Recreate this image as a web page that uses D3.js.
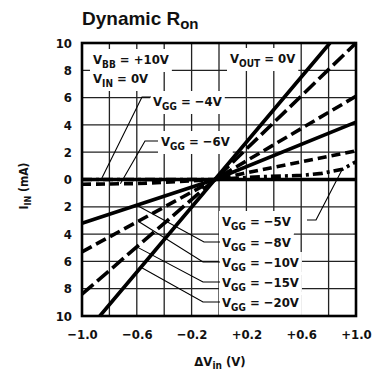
<!DOCTYPE html>
<html>
<head>
<meta charset="utf-8">
<script src="https://cdn.jsdelivr.net/npm/d3@7"></script>
<style>
  body { margin: 0; background: #fff; }
  text { font-family: "Liberation Sans Narrow", "DejaVu Sans Condensed", sans-serif; font-weight: bold; fill: #111; }
</style>
</head>
<body>
<div id="chart"></div>
<script>
//***************** data *******************/
var xTicks = [-1.0, -0.6, -0.2, 0.2, 0.6, 1.0];
var yTicks = [10, 8, 6, 4, 2, 0, -2, -4, -6, -8, -10];
var xGrid = [-0.8, -0.6, -0.4, -0.2, 0, 0.2, 0.4, 0.6, 0.8];
var yGrid = [8, 6, 4, 2, 0, -2, -4, -6, -8];

// [dV_in (V), I_IN (mA)]
var vgg4  = [[-1.0, 0], [1.0, 0]];
var vgg5  = [[-1.0, 0], [-0.03, 0], [0.3, 0.2], [0.6, 0.3], [0.75, 0.45], [0.9, 0.75], [1.0, 1.3]];
var vgg6  = [[-1.0, -0.35], [-0.6, -0.3], [-0.3, -0.15], [-0.03, 0], [0.3, 0.7], [1.0, 2.1]];
var vgg8  = [[-1.0, -3.2], [-0.03, 0], [1.0, 4.2]];
var vgg10 = [[-1.0, -5.3], [-0.03, 0], [1.0, 6.1]];
var vgg15 = [[-1.0, -8.4], [-0.03, 0], [1.0, 10]];
var vgg20 = [[-0.87, -10], [-0.03, 0], [0.81, 10]];

var seriesNames = ["\u22124V", "\u22125V", "\u22126V", "\u22128V", "\u221210V", "\u221215V", "\u221220V"];
var seriesData  = [vgg4, vgg5, vgg6, vgg8, vgg10, vgg15, vgg20];
// where each leader line touches its curve (dV_in)
var leaderAt = [-0.86, 0.9, -0.72, -0.6, -0.59, -0.6, -0.57];

//************* styles / layout ***************/
var dashes = [null, "10,4,3,4", "9,5", null, "11,5", "15,5", null];
// label: x, baseline; leader: knee x, knee y, end x
var labelPos = [
  {x: 153, y: 106, kx: 142, ky: 97,  ex: 151},
  {x: 222, y: 226, kx: 316, ky: 220, ex: 307},
  {x: 161, y: 146, kx: 145, ky: 141, ex: 158},
  {x: 222, y: 247, kx: 204, ky: 242, ex: 220},
  {x: 222, y: 267, kx: 203, ky: 262, ex: 220},
  {x: 222, y: 287, kx: 203, ky: 282, ex: 220},
  {x: 222, y: 307, kx: 203, ky: 302, ex: 220}
];

var W = 377, H = 375;
var svg = d3.select("#chart").append("svg")
  .attr("width", W).attr("height", H);

var x = d3.scaleLinear().domain([-1, 1]).range([82, 356]);
var y = d3.scaleLinear().domain([-10, 10]).range([316, 43]);

//***************** grid *******************/
svg.append("g").selectAll("line").data(xGrid).enter().append("line")
  .attr("x1", function(d) { return x(d); }).attr("x2", function(d) { return x(d); })
  .attr("y1", y(10)).attr("y2", y(-10))
  .attr("stroke", "#222").attr("stroke-width", 1.3);
svg.append("g").selectAll("line").data(yGrid).enter().append("line")
  .attr("y1", function(d) { return y(d); }).attr("y2", function(d) { return y(d); })
  .attr("x1", x(-1)).attr("x2", x(1))
  .attr("stroke", "#222").attr("stroke-width", 1.3);

//***************** axes *******************/
var yAxis = svg.append("g").attr("transform", "translate(" + x(-1) + ",0)")
  .call(d3.axisLeft(y).tickValues(yTicks).tickSize(0).tickPadding(10)
    .tickFormat(function(d) { return Math.abs(d); }));
yAxis.select(".domain").remove();
yAxis.selectAll("text").attr("font-size", 13).attr("font-family", null);

var xAxis = svg.append("g").attr("transform", "translate(0," + y(-10) + ")")
  .call(d3.axisBottom(x).tickValues(xTicks).tickSize(0).tickPadding(14)
    .tickFormat(function(d) { return (d > 0 ? "+" : "\u2212") + Math.abs(d).toFixed(1); }));
xAxis.select(".domain").remove();
xAxis.selectAll("text").attr("font-size", 13).attr("font-family", null);

//***************** labels with white boxes *******************/
var boxes = svg.append("g");
var labels = svg.append("g");

function addLabel(px, py, main, sub, rest, size) {
  var t = labels.append("text").attr("x", px).attr("y", py).attr("font-size", size || 13);
  t.append("tspan").text(main);
  t.append("tspan").attr("dy", 4).attr("font-size", 10).text(sub);
  t.append("tspan").attr("dy", -4).text(rest);
  return t;
}

var boxed = [];
boxed.push(addLabel(93, 64, "V", "BB", " = +10V"));
boxed.push(addLabel(93, 83, "V", "IN", " = 0V"));
boxed.push(addLabel(230, 63, "V", "OUT", " = 0V"));
seriesNames.forEach(function(n, i) {
  boxed.push(addLabel(labelPos[i].x, labelPos[i].y, "V", "GG", "  = " + n));
});
boxed.forEach(function(t) {
  var b = t.node().getBBox();
  boxes.append("rect").attr("x", b.x - 3).attr("y", b.y - 3)
    .attr("width", b.width + 6).attr("height", b.height + 5).attr("fill", "#fff");
});

//***************** curves *******************/
var line = d3.line()
  .x(function(d) { return x(d[0]); })
  .y(function(d) { return y(d[1]); });

var curves = svg.insert("g", function() { return labels.node(); });
seriesData.forEach(function(s, i) {
  curves.append("path").datum(s)
    .attr("d", line)
    .attr("fill", "none")
    .attr("stroke", "#000")
    .attr("stroke-width", 3.6)
    .attr("stroke-dasharray", dashes[i]);
});

// frame
curves.append("rect")
  .attr("x", x(-1)).attr("y", y(10))
  .attr("width", x(1) - x(-1)).attr("height", y(-10) - y(10))
  .attr("fill", "none").attr("stroke", "#000").attr("stroke-width", 2.6);

//***************** leaders *******************/
function valueAt(s, v) {
  for (var k = 0; k < s.length - 1; k++) {
    if (v >= s[k][0] && v <= s[k + 1][0]) {
      var f = (v - s[k][0]) / (s[k + 1][0] - s[k][0]);
      return s[k][1] + f * (s[k + 1][1] - s[k][1]);
    }
  }
  return s[s.length - 1][1];
}
seriesData.forEach(function(s, i) {
  var p = labelPos[i];
  var tx = x(leaderAt[i]), ty = y(valueAt(s, leaderAt[i]));
  curves.append("path")
    .attr("d", "M" + tx + "," + ty + "L" + p.kx + "," + p.ky + "L" + p.ex + "," + p.ky)
    .attr("fill", "none").attr("stroke", "#000").attr("stroke-width", 1.1);
});

//***************** titles *******************/
var title = svg.append("text").attr("x", 82).attr("y", 25)
  .attr("font-size", 19)
  .style("font-family", "'Liberation Sans', Arial, sans-serif");
title.append("tspan").text("Dynamic R");
title.append("tspan").attr("dy", 4).attr("font-size", 15).text("on");

var xt = svg.append("text").attr("x", 220).attr("y", 366)
  .attr("text-anchor", "middle").attr("font-size", 13);
xt.append("tspan").text("\u0394V");
xt.append("tspan").attr("dy", 3).attr("font-size", 10).text("in");
xt.append("tspan").attr("dy", -3).text(" (V)");

var yt = svg.append("text").attr("transform", "translate(28,186) rotate(-90)")
  .attr("text-anchor", "middle").attr("font-size", 12);
yt.append("tspan").text("I");
yt.append("tspan").attr("dy", 3).attr("font-size", 9).text("IN");
yt.append("tspan").attr("dy", -3).text(" (mA)");
</script>
</body>
</html>
